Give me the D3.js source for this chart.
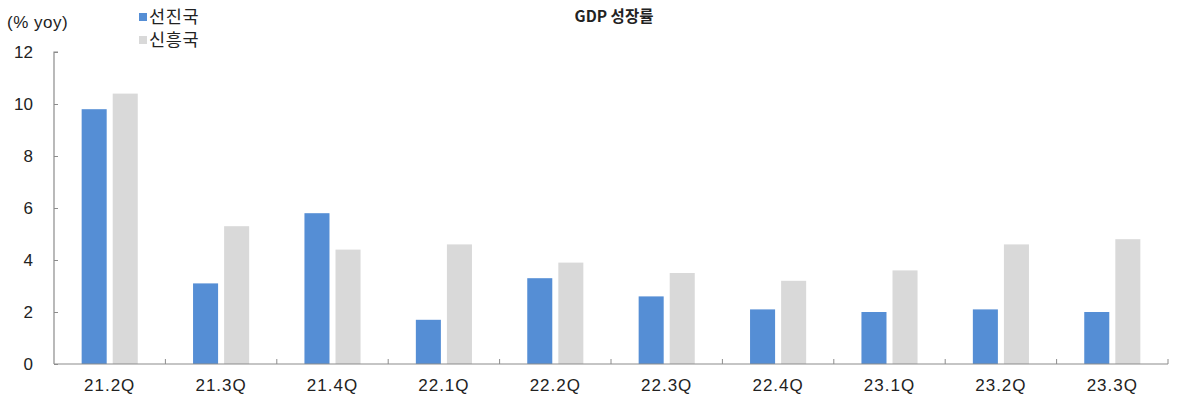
<!DOCTYPE html>
<html>
<head>
<meta charset="utf-8">
<script src="https://cdn.jsdelivr.net/npm/d3@7"></script>
<style>
  html, body { margin: 0; padding: 0; background: #fff; }
  svg { display: block; }
  text { font-family: "Liberation Sans", "Noto Sans CJK KR", sans-serif; fill: #222; }
</style>
</head>
<body>
<svg id="chart" width="1178" height="396"></svg>
<script>
// GDP growth, % yoy, advanced vs emerging economies
const quarters = ["21.2Q", "21.3Q", "21.4Q", "22.1Q", "22.2Q", "22.3Q", "22.4Q", "23.1Q", "23.2Q", "23.3Q"];
const advanced = [9.8, 3.1, 5.8, 1.7, 3.3, 2.6, 2.1, 2.0, 2.1, 2.0];
const emerging = [10.4, 5.3, 4.4, 4.6, 3.9, 3.5, 3.2, 3.6, 4.6, 4.8];
const seriesNames = ["선진국", "신흥국"];
const seriesColors = ["#558ED5", "#D9D9D9"];
const yTicks = [0, 2, 4, 6, 8, 10, 12];

const svg = d3.select("#chart");
const axisColor = "#8c8c8c";

const x = d3.scaleBand().domain(quarters).range([54, 1168]).paddingInner(0).paddingOuter(0);
const y = d3.scaleLinear().domain([0, 12]).range([364, 52]);
const inner = d3.scaleBand().domain([0, 1]).range([0, x.bandwidth()]).paddingOuter(0.89).paddingInner(0.194);

// bars
const series = [advanced, emerging];
series.forEach((vals, si) => {
  svg.append("g").selectAll("rect").data(vals).join("rect")
    .attr("x", (d, i) => x(quarters[i]) + inner(si))
    .attr("width", inner.bandwidth())
    .attr("y", d => y(d))
    .attr("height", d => y(0) - y(d))
    .attr("fill", seriesColors[si]);
});

// y axis
const yAxis = d3.axisRight(y).tickValues(yTicks).tickSize(4).tickFormat("");
const gy = svg.append("g").attr("transform", "translate(54,0)").call(yAxis);
gy.select(".domain").attr("stroke", axisColor).attr("stroke-width", 1.2).attr("d", "M4,52H0V364");
gy.selectAll(".tick line").attr("stroke", axisColor);
svg.append("g").selectAll("text").data(yTicks).join("text")
  .attr("x", 33).attr("y", d => y(d)).attr("dy", "0.36em")
  .attr("text-anchor", "end").attr("font-size", 17)
  .text(d => d);

// x axis with inward tick marks at category boundaries
const gx = svg.append("g");
gx.append("line").attr("x1", 54).attr("x2", 1168).attr("y1", 364).attr("y2", 364)
  .attr("stroke", axisColor).attr("stroke-width", 1.2);
const bounds = quarters.map(q => x(q) + x.bandwidth());
gx.selectAll("line.tk").data(bounds).join("line").attr("class", "tk")
  .attr("x1", d => d).attr("x2", d => d).attr("y1", 364).attr("y2", 359)
  .attr("stroke", axisColor);
gx.selectAll("text").data(quarters).join("text")
  .attr("x", d => x(d) + x.bandwidth() / 2).attr("y", 391)
  .attr("text-anchor", "middle").attr("font-size", 17).attr("letter-spacing", 1)
  .text(d => d);

// unit label
svg.append("text").attr("x", 7).attr("y", 28).attr("font-size", 17).attr("letter-spacing", 0.5).text("(% yoy)");

// legend
const legend = svg.append("g");
seriesNames.forEach((name, i) => {
  const cy = 17 + i * 23;
  legend.append("rect").attr("x", 139).attr("y", cy - 4).attr("width", 8).attr("height", 8).attr("fill", seriesColors[i]);
  legend.append("text").attr("x", 149).attr("y", cy).attr("dy", "0.36em")
    .attr("font-size", 17.5).attr("letter-spacing", 0.6)
    .style("font-family", "'Noto Sans CJK KR', sans-serif").text(name);
});

// title
svg.append("text").attr("x", 614).attr("y", 16).attr("dy", "0.36em")
  .attr("text-anchor", "middle").attr("font-size", 15.5).attr("font-weight", "bold")
  .style("font-family", "'Noto Sans CJK KR', sans-serif").text("GDP 성장률");
</script>
</body>
</html>
